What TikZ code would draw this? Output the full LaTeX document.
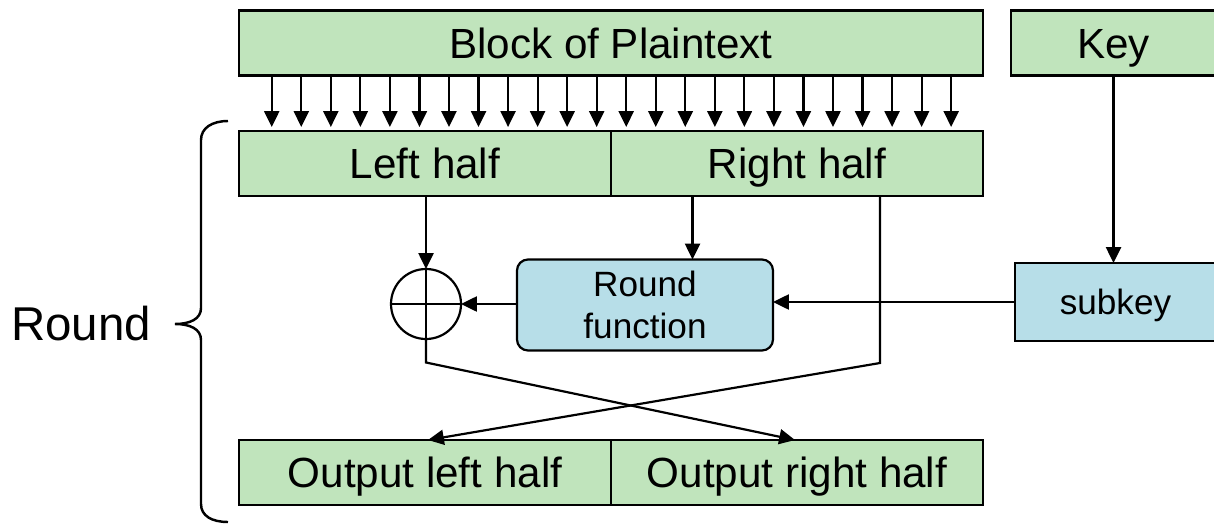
\documentclass[tikz,border=0pt]{standalone}
\usepackage{fontspec}
\setmainfont{Liberation Sans}
\usetikzlibrary{arrows.meta,positioning,calc}
\definecolor{fstgreen}{RGB}{192,228,188}
\definecolor{fstblue}{RGB}{183,222,232}

\begin{document}
\begin{tikzpicture}[
    line width=1.25pt,
    box/.style={draw, fill=fstgreen, outer sep=0pt, inner sep=0pt,
                minimum height=1.3cm, text height=17.2pt, text depth=0pt,
                font=\fontsize{24}{28}\selectfont},
    fbox/.style={draw, fill=fstblue, outer sep=0pt, inner sep=0pt,
                 align=center, font=\fontsize{20}{23.6}\selectfont},
    arr/.style={-{Triangle[width=8.5pt,length=9pt]}}
]
    \useasboundingbox (0,0) rectangle (24.28,-10.48);

    % Inputs
    \node[box, minimum width=14.88cm] (plain) at (12.22,-0.86) {Block of Plaintext};
    \node[box, minimum width=4.1cm] (key) at (22.27,-0.86) {Key};

    % Halves
    \node[box, minimum width=7.44cm] (lefthalf) at (8.5,-3.27) {Left half};
    \node[box, minimum width=7.44cm, right=0pt of lefthalf] (righthalf) {Right half};

    % XOR, round function, subkey
    \node[circle, draw, minimum size=1.4cm, inner sep=0pt, outer sep=0pt] (xor) at (8.52,-6.08) {};
    \draw (xor.north) -- (xor.south) (xor.west) -- (xor.east);
    \node[fbox, rounded corners=0.22cm, minimum width=5.12cm, minimum height=1.82cm] (rf) at (12.9,-6.1) {Round\\function};
    \node[fbox, minimum width=4.02cm, minimum height=1.56cm, text height=14.3pt, text depth=0pt] (subkey) at (22.31,-6.04) {subkey};

    % Outputs
    \node[box, minimum width=7.44cm] (outleft) at (8.5,-9.45) {Output left half};
    \node[box, minimum width=7.44cm, right=0pt of outleft] (outright) {Output right half};

    % Bits into the halves
    \foreach \i in {0,...,23}{
        \coordinate (bit\i) at ($(plain.south west)!{0.044+0.0397*\i}!(plain.south east)$);
        \draw[arr, shorten >=0.08cm] (bit\i) -- (bit\i |- lefthalf.north);
    }

    % Feistel step
    \draw[arr] (xor.north |- lefthalf.south) -- (xor.north);
    \coordinate (rtap) at ([xshift=1.63cm]righthalf.south west);
    \draw[arr] (rtap) -- (rtap |- rf.north);
    \draw[arr] (xor.east -| rf.west) -- (xor.east);
    \draw[arr] (key.south) -- (key.south |- subkey.north);
    \draw[arr] (subkey.west) -- (subkey.west -| rf.east);

    % Swap
    \draw[arr] (xor.south) -- ++(0,-0.47) -- ([xshift=-0.04cm]outright.north);
    \coordinate (rdown) at ([xshift=1.66cm]righthalf.south);
    \draw[arr] (rdown) -- ++(0,-3.34) -- ([xshift=0.06cm]outleft.north);

    % Round brace
    \coordinate (tip) at (3.5,-6.48);
    \draw[line width=1.4pt] (4.56,-2.42) .. controls (4.24,-2.42) and (4.02,-2.56) .. (4.02,-2.8)
        -- (4.02,-6.16) .. controls (4.02,-6.38) and (3.8,-6.48) .. (tip)
        .. controls (3.8,-6.48) and (4.02,-6.58) .. (4.02,-6.8)
        -- (4.02,-10.08) .. controls (4.02,-10.32) and (4.24,-10.44) .. (4.56,-10.44);
    \node[anchor=east, inner sep=0pt, text height=19.3pt, text depth=0pt,
          font=\fontsize{27}{32}\selectfont] (roundlbl) at ([xshift=-0.46cm]tip) {Round};
\end{tikzpicture}
\end{document}
